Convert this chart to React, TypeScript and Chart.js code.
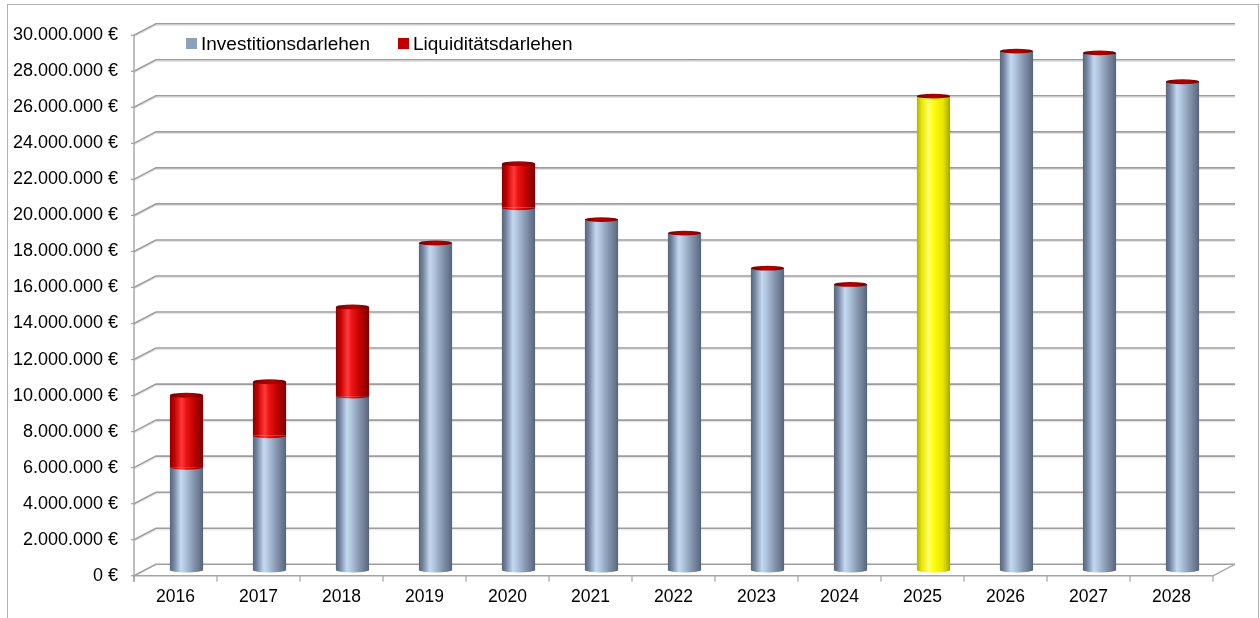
import React, { useEffect, useRef } from 'react';
import { Chart, registerables } from 'chart.js';

Chart.register(...registerables);

// ---------- data ----------
const categories = ['2016', '2017', '2018', '2019', '2020', '2021', '2022', '2023', '2024', '2025', '2026', '2027', '2028'];
const investitionsdarlehen = [5700000, 7450000, 9650000, 18150000, 20100000, 19450000, 18700000, 16750000, 15850000, 26300000, 28800000, 28700000, 27100000];
const liquiditaetsdarlehen = [4000000, 3000000, 4950000, 0, 2450000, 0, 0, 0, 0, 0, 0, 0, 0];
const seriesLabels = ['Investitionsdarlehen', 'Liquiditätsdarlehen'];
const highlightedCategory = '2025';
const yMin = 0;
const yMax = 30000000;
const yStep = 2000000;

// ---------- styling ----------
const FONT = '"Liberation Sans", Arial, sans-serif';
const HALF_DX = 11; // half of the 3D depth offset (x)
const HALF_DY = 5.75; // half of the 3D depth offset (y)
const RY = 2.4;
const BAR_PCT = 0.4;

type Stop = [number, string];
const GRAY: Stop[] = [
  [0, '#56657a'], [0.12, '#7384a0'], [0.33, '#c4d8f0'], [0.45, '#b3c7e0'], [0.7, '#8797b0'], [0.9, '#68778d'], [1, '#56647a'],
];
const RED: Stop[] = [
  [0, '#8a0000'], [0.14, '#c40000'], [0.36, '#ff3a3a'], [0.48, '#ec1414'], [0.75, '#bb0000'], [1, '#7c0000'],
];
const YELLOW: Stop[] = [
  [0, '#b3b300'], [0.14, '#e6e600'], [0.36, '#ffff70'], [0.48, '#ffff10'], [0.78, '#e8e800'], [1, '#a6a600'],
];
const CAP: Stop[] = [
  [0, '#6e0000'], [0.35, '#a80000'], [0.6, '#b00000'], [1, '#700000'],
];

function grad(ctx: CanvasRenderingContext2D, cx: number, w: number, stops: Stop[]) {
  if (!isFinite(cx) || !isFinite(w) || w <= 0) return stops[2][1];
  const g = ctx.createLinearGradient(cx - w / 2, 0, cx + w / 2, 0);
  stops.forEach(([o, c]) => g.addColorStop(o, c));
  return g;
}

function fmtEuro(v: number) {
  const s = Math.round(v).toString().replace(/\B(?=(\d{3})+(?!\d))/g, '.');
  return s + ' €';
}

function barStops(datasetIndex: number, dataIndex: number) {
  if (datasetIndex === 1) return RED;
  return categories[dataIndex] === highlightedCategory ? YELLOW : GRAY;
}

function scriptedFill(datasetIndex: number) {
  return (c: any) => {
    const stops = barStops(datasetIndex, c.dataIndex ?? 0);
    const xs = c.chart && c.chart.scales ? c.chart.scales.x : null;
    if (c.type !== 'data' || !xs || !c.chart.chartArea) return stops[2][1];
    const cx = xs.getPixelForValue(c.dataIndex);
    const w = (xs.width / categories.length) * BAR_PCT;
    return grad(c.chart.ctx, cx, w, stops);
  };
}

const scene3d = {
  id: 'scene3d',
  beforeDraw(chart: any) {
    const { ctx, width, height } = chart;
    ctx.save();
    ctx.fillStyle = '#ffffff';
    ctx.fillRect(0, 0, width, height);
    ctx.strokeStyle = '#b0b0b0';
    ctx.lineWidth = 1;
    ctx.strokeRect(7.5, 4.5, 1251, 620);
    ctx.restore();
  },
  beforeDatasetsDraw(chart: any) {
    const { ctx, chartArea, scales } = chart;
    const ys = scales.y;
    const fl = chartArea.left - HALF_DX;
    const bl = chartArea.left + HALF_DX;
    const br = chartArea.right + HALF_DX;
    const fr = chartArea.right - HALF_DX;
    ctx.save();
    ys.ticks.forEach((t: any) => {
      const ym = ys.getPixelForValue(t.value);
      const yf = ym + HALF_DY;
      const yb = ym - HALF_DY;
      if (t.value !== yMin) {
        ctx.strokeStyle = '#e2e2e2';
        ctx.lineWidth = 1;
        ctx.beginPath();
        ctx.moveTo(fl, yf + 1.6);
        ctx.lineTo(bl, yb + 1.6);
        ctx.lineTo(br, yb + 1.6);
        ctx.stroke();
      }
      ctx.strokeStyle = '#9d9d9d';
      ctx.lineWidth = 1.6;
      ctx.beginPath();
      ctx.moveTo(fl, yf);
      ctx.lineTo(bl, yb);
      ctx.lineTo(br, yb);
      ctx.stroke();
      ctx.lineWidth = 1.2;
      ctx.beginPath();
      ctx.moveTo(fl - 3, yf);
      ctx.lineTo(fl, yf);
      ctx.stroke();
    });
    const yf0 = ys.getPixelForValue(yMin) + HALF_DY;
    const yb0 = ys.getPixelForValue(yMin) - HALF_DY;
    const yfTop = ys.getPixelForValue(yMax) + HALF_DY;
    ctx.strokeStyle = '#a3a3a3';
    ctx.lineWidth = 1.4;
    ctx.beginPath();
    ctx.moveTo(fl, yfTop);
    ctx.lineTo(fl, yf0 + 6);
    ctx.stroke();
    ctx.beginPath();
    ctx.moveTo(fl, yf0);
    ctx.lineTo(fr, yf0);
    ctx.lineTo(br, yb0);
    ctx.stroke();
    const cw = (chartArea.right - chartArea.left) / categories.length;
    ctx.lineWidth = 1.2;
    for (let i = 0; i <= categories.length; i++) {
      const x = fl + i * cw;
      ctx.beginPath();
      ctx.moveTo(x, yf0);
      ctx.lineTo(x, yf0 + 6);
      ctx.stroke();
    }
    ctx.restore();
  },
  afterDatasetsDraw(chart: any) {
    const { ctx } = chart;
    const m0 = chart.getDatasetMeta(0);
    const m1 = chart.getDatasetMeta(1);
    ctx.save();
    m0.data.forEach((el: any, i: number) => {
      const p = el.getProps(['x', 'y', 'base', 'width'], true);
      const rx = p.width / 2;
      ctx.fillStyle = grad(ctx, p.x, p.width, barStops(0, i));
      ctx.beginPath();
      ctx.ellipse(p.x, p.base, rx, RY, 0, 0, Math.PI);
      ctx.fill();
      const q = m1.data[i].getProps(['x', 'y', 'base', 'width'], true);
      if (Math.abs(q.base - q.y) > 0.5) {
        ctx.fillStyle = grad(ctx, q.x, q.width, RED);
        ctx.beginPath();
        ctx.ellipse(q.x, q.base, rx, RY, 0, 0, Math.PI);
        ctx.fill();
      }
      ctx.fillStyle = grad(ctx, q.x, q.width, CAP);
      ctx.beginPath();
      ctx.ellipse(q.x, q.y, rx, RY, 0, 0, Math.PI * 2);
      ctx.fill();
    });
    ctx.restore();
  },
  afterDraw(chart: any) {
    const { ctx } = chart;
    ctx.save();
    ctx.font = '19px ' + FONT;
    ctx.textBaseline = 'alphabetic';
    ctx.textAlign = 'left';
    const colors = ['#8ea1bb', '#c00000'];
    const markerX = [186, 398];
    seriesLabels.forEach((lab, i) => {
      ctx.fillStyle = colors[i];
      ctx.fillRect(markerX[i], 38, 11, 11);
      ctx.fillStyle = '#000000';
      ctx.fillText(lab, markerX[i] + 15, 49.5);
    });
    ctx.restore();
  },
};

export default function App() {
  const ref = useRef<HTMLCanvasElement | null>(null);
  useEffect(() => {
    if (!ref.current) return;
    const chart = new Chart(ref.current, {
      type: 'bar',
      data: {
        labels: categories,
        datasets: [
          {
            label: seriesLabels[0],
            data: investitionsdarlehen,
            backgroundColor: scriptedFill(0),
            borderWidth: 0,
            barPercentage: BAR_PCT,
            categoryPercentage: 1,
          },
          {
            label: seriesLabels[1],
            data: liquiditaetsdarlehen,
            backgroundColor: scriptedFill(1),
            borderWidth: 0,
            barPercentage: BAR_PCT,
            categoryPercentage: 1,
          },
        ],
      },
      options: {
        animation: false,
        responsive: false,
        devicePixelRatio: 1,
        layout: { padding: { left: 0, right: 36, top: 29.5, bottom: 0 } },
        plugins: { legend: { display: false }, tooltip: { enabled: false } },
        scales: {
          x: {
            stacked: true,
            grid: { display: false, drawTicks: true, tickLength: 17 },
            border: { display: false },
            ticks: {
              color: '#000000',
              font: { family: FONT, size: 17.5 },
              padding: 0,
              labelOffset: -HALF_DX,
              maxRotation: 0,
              autoSkip: false,
            },
            afterFit: (s: any) => { s.height = 48; },
          },
          y: {
            stacked: true,
            min: yMin,
            max: yMax,
            grid: { display: false, drawTicks: true, tickLength: 27 },
            border: { display: false },
            ticks: {
              stepSize: yStep,
              color: '#000000',
              font: { family: FONT, size: 18 },
              padding: 0,
              labelOffset: HALF_DY,
              callback: (v: any) => fmtEuro(Number(v)),
            },
            afterFit: (s: any) => { s.width = 145; },
          },
        },
      },
      plugins: [scene3d],
    } as any);
    return () => chart.destroy();
  }, []);
  return (
    <div style={{ position: 'fixed', left: 0, top: 0, width: 1260, height: 618, background: '#fff' }}>
      <canvas ref={ref} width={1260} height={618} style={{ width: 1260, height: 618, display: 'block' }} />
    </div>
  );
}
